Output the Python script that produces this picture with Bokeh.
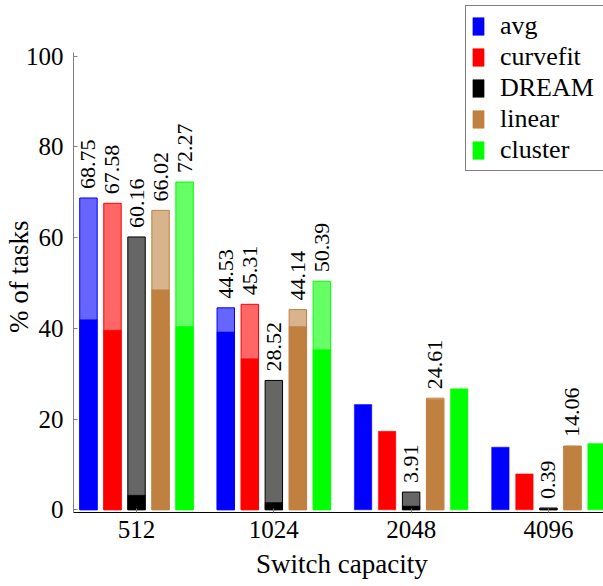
import math
from bokeh.plotting import figure
from bokeh.models import FixedTicker, Range1d, Legend, LegendItem, ColumnDataSource
from bokeh.transform import dodge
from bokeh.core.properties import value
from bokeh.embed import file_html
from bokeh.resources import INLINE

capacities = ["512", "1024", "2048", "4096"]
methods = ["avg", "curvefit", "DREAM", "linear", "cluster"]
colors = ["#0000ff", "#ff0000", "#000000", "#bf8040", "#00ff00"]

# solid (lower) part of each bar
avg_solid = [41.9, 39.2, 23.2, 13.8]
curvefit_solid = [39.6, 33.3, 17.3, 7.9]
dream_solid = [3.2, 1.6, 0.8, 0.2]
linear_solid = [48.5, 40.4, 24.3, 14.0]
cluster_solid = [40.4, 35.3, 26.7, 14.6]

# labelled totals (light part); None where not drawn
avg_total = [68.75, 44.53, None, None]
curvefit_total = [67.58, 45.31, None, None]
dream_total = [60.16, 28.52, 3.91, 0.39]
linear_total = [66.02, 44.14, 24.61, 14.06]
cluster_total = [72.27, 50.39, None, None]

solids = [avg_solid, curvefit_solid, dream_solid, linear_solid, cluster_solid]
totals = [avg_total, curvefit_total, dream_total, linear_total, cluster_total]

FONT = "Liberation Serif"
step = 0.175
bw = 0.127
y_lo, y_axis_hi, y_view_hi = -0.6, 100.8, 112.3

p = figure(width=603, height=586, output_backend="svg", toolbar_location=None,
           x_range=Range1d(-0.459, 3.401), y_range=Range1d(y_lo, y_view_hi),
           min_border_left=73, min_border_right=0, min_border_top=0, min_border_bottom=74)
p.outline_line_color = None
p.xgrid.grid_line_color = None
p.ygrid.grid_line_color = None
p.background_fill_color = "white"
p.border_fill_color = "white"

idx = list(range(len(capacities)))
items = []
for i, (m, c) in enumerate(zip(methods, colors)):
    off = (i - 2) * step
    tx = [k for k, t in zip(idx, totals[i]) if t is not None]
    tv = [t for t in totals[i] if t is not None]
    tsrc = ColumnDataSource(dict(x=tx, top=tv, label=[f"{t:.2f}" for t in tv]))
    p.vbar(x=dodge("x", off, range=p.x_range), top="top", bottom=0, width=bw, source=tsrc,
           fill_color=c, fill_alpha=0.6, line_color=c, line_width=1)
    ssrc = ColumnDataSource(dict(x=idx, top=solids[i]))
    r = p.vbar(x=dodge("x", off, range=p.x_range), top="top", bottom=0, width=bw, source=ssrc,
               fill_color=c, line_color=c, line_alpha=0.5, line_width=1)
    items.append(LegendItem(label=m, renderers=[r]))
    p.text(x=dodge("x", off, range=p.x_range), y="top", text="label", source=tsrc,
           angle=math.pi / 2, text_align="left", text_baseline="middle",
           y_offset=-9, text_font=value(FONT), text_font_size="22px", text_color="black")

# axes
p.xaxis.ticker = FixedTicker(ticks=idx)
p.xaxis.major_label_overrides = {k: s for k, s in zip(idx, capacities)}
p.yaxis.ticker = FixedTicker(ticks=[0, 20, 40, 60, 80, 100])
p.yaxis.bounds = (y_lo, y_axis_hi)
for ax in (p.xaxis, p.yaxis):
    ax.major_tick_in = 4
    ax.major_tick_out = 0
    ax.minor_tick_line_color = None
    ax.major_tick_line_color = "#808080"
    ax.major_label_text_font = FONT
    ax.major_label_text_font_size = "25px"
    ax.major_label_text_color = "black"
    ax.axis_label_text_font = FONT
    ax.axis_label_text_font_size = "27px"
    ax.axis_label_text_font_style = "normal"
    ax.axis_label_text_color = "black"
p.xaxis.axis_line_color = "black"
p.yaxis.axis_line_color = "#808080"
p.xaxis.axis_label = "\u00a0Switch capacity"
# trailing no-break spaces centre the label on the 0-100 axis extent
p.yaxis.axis_label = "% of tasks" + "\u00a0" * 6
p.yaxis.major_label_standoff = 10
p.yaxis.axis_label_standoff = -11
p.xaxis.major_label_standoff = 8
p.xaxis.axis_label_standoff = 8

legend = Legend(items=items, location=(392, 341))
legend.border_line_color = "black"
legend.border_line_width = 1
legend.background_fill_color = "white"
legend.background_fill_alpha = 1
legend.label_text_font = FONT
legend.label_text_font_size = "26px"
legend.label_text_color = "black"
legend.glyph_width = 14
legend.glyph_height = 22
legend.label_height = 22
legend.label_width = 102
legend.spacing = 1
legend.padding = 5
legend.margin = 0
legend.label_standoff = 15
p.add_layout(legend, "center")

open("out.html", "w").write(file_html(p, INLINE))
